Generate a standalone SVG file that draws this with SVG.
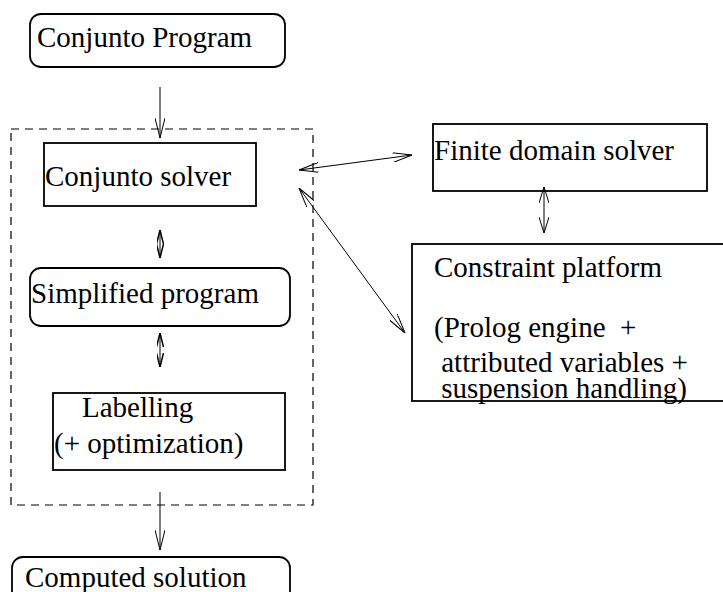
<svg xmlns="http://www.w3.org/2000/svg" width="723" height="592" viewBox="0 0 723 592">
<style>
  .box { fill: #fff; stroke: #000; stroke-width: 1.8; }
  .t { font-family: "Liberation Serif", "Times New Roman", serif; font-size: 29px; fill: #000; }
  .c { fill: none; stroke: #000; stroke-width: 1; }
  .dash { fill: none; stroke: #000; stroke-width: 1.2; stroke-dasharray: 8 6; }
</style>
<defs>
  <marker id="a" viewBox="0 0 20 10" refX="20" refY="5" markerWidth="20" markerHeight="10" markerUnits="userSpaceOnUse" orient="auto-start-reverse">
    <path d="M0,0 L20,5 L0,10" fill="none" stroke="#000" stroke-width="1"/>
  </marker>
  <marker id="s" viewBox="0 0 14 7" refX="14" refY="3.5" markerWidth="14" markerHeight="7" markerUnits="userSpaceOnUse" orient="auto-start-reverse">
    <path d="M0,0 L14,3.5 L0,7" fill="none" stroke="#000" stroke-width="1.5"/>
  </marker>
  <marker id="m" viewBox="0 0 16 10" refX="16" refY="5" markerWidth="16" markerHeight="10" markerUnits="userSpaceOnUse" orient="auto-start-reverse">
    <path d="M0,0 L16,5 L0,10" fill="none" stroke="#000" stroke-width="1"/>
  </marker>
</defs>

<rect id="solver-group" class="dash" x="11" y="129" width="302" height="376"/>

<g id="conjunto-program">
  <rect class="box" x="30" y="14" width="255" height="53" rx="11"/>
  <text class="t" x="37" y="47">Conjunto Program</text>
</g>
<g id="conjunto-solver">
  <rect class="box" x="44" y="143" width="212" height="63"/>
  <text class="t" x="45" y="186">Conjunto solver</text>
</g>
<g id="simplified-program">
  <rect class="box" x="30" y="268" width="260" height="58" rx="11"/>
  <text class="t" x="31" y="303">Simplified program</text>
</g>
<g id="labelling">
  <rect class="box" x="53" y="393" width="232" height="77"/>
  <text class="t" x="82" y="417">Labelling</text>
  <text class="t" x="54" y="453">(+ optimization)</text>
</g>
<g id="computed-solution">
  <rect class="box" x="12" y="557" width="278" height="60" rx="11"/>
  <text class="t" x="25" y="587">Computed solution</text>
</g>
<g id="finite-domain-solver">
  <rect class="box" x="433" y="124" width="274" height="67"/>
  <text class="t" x="434" y="160">Finite domain solver</text>
</g>
<g id="constraint-platform">
  <rect class="box" x="412" y="244" width="320" height="157"/>
  <text class="t" x="434" y="277">Constraint platform</text>
  <text class="t" x="434" y="337" xml:space="preserve">(Prolog engine  +</text>
  <text class="t" x="434" y="372" xml:space="preserve"> attributed variables +</text>
  <text class="t" x="434" y="398" xml:space="preserve"> suspension handling)</text>
</g>

<g id="connectors">
  <line class="c" x1="160" y1="87" x2="160" y2="138" marker-end="url(#a)"/>
  <line class="c" x1="160" y1="230" x2="160" y2="258" marker-start="url(#s)" marker-end="url(#s)" stroke-width="1.2"/>
  <line class="c" x1="160" y1="333" x2="160" y2="367" marker-start="url(#s)" marker-end="url(#s)" stroke-width="1.2"/>
  <line class="c" x1="160" y1="492" x2="160" y2="550" marker-end="url(#a)"/>
  <line class="c" x1="299" y1="170" x2="412" y2="155" marker-start="url(#a)" marker-end="url(#a)"/>
  <line class="c" x1="299" y1="188" x2="405" y2="333" marker-start="url(#a)" marker-end="url(#a)"/>
  <line class="c" x1="544" y1="187" x2="544" y2="233" marker-start="url(#m)" marker-end="url(#m)"/>
</g>
</svg>
